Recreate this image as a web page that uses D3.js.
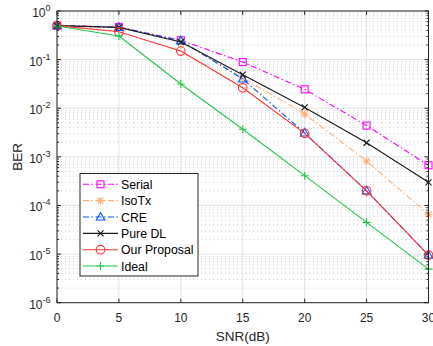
<!DOCTYPE html>
<html>
<head>
<meta charset="utf-8">
<script src="https://cdn.jsdelivr.net/npm/d3@7"></script>
<style>
  body { margin: 0; background: #fff; }
  svg { display: block; font-family: "Liberation Sans", Arial, sans-serif; }
</style>
</head>
<body>
<div id="chart"></div>
<script>
// SNR points (dB)
var snr = [0, 5, 10, 15, 20, 25, 30];

// BER per scheme
var serial   = [0.5, 0.47, 0.25, 0.089, 0.0245, 0.0044, 0.00067];
var isoTx    = [0.5, 0.47, 0.24, 0.042, 0.0076, 0.00082, 0.000066];
var cre      = [0.5, 0.46, 0.245, 0.040, 0.0031, 0.0002, 0.0000095];
var pureDL   = [0.5, 0.46, 0.23, 0.049, 0.0104, 0.00195, 0.0003];
var proposal = [0.5, 0.375, 0.15, 0.0264, 0.00304, 0.0002, 0.0000095];
var ideal    = [0.49, 0.306, 0.0315, 0.0037, 0.00041, 0.000045, 0.0000049];

var seriesNames = ["Serial", "IsoTx", "CRE", "Pure DL", "Our Proposal", "Ideal"];
var xTicks = [0, 5, 10, 15, 20, 25, 30];
var yExponents = [0, -1, -2, -3, -4, -5, -6];

function init() {
    var w = 433, h = 346;
    var left = 57, right = 428.5, top = 11, bottom = 302.7;
    var axisColor = "#262626";

    var series = [
        { name: seriesNames[0], values: serial,   color: "#ff00ff", dash: "6,2.5,1.5,2.5", marker: "square" },
        { name: seriesNames[1], values: isoTx,    color: "#ffb077", dash: "6,2.5,1.5,2.5", marker: "star" },
        { name: seriesNames[2], values: cre,      color: "#0055ff", dash: "6,2.5,1.5,2.5", marker: "triangle" },
        { name: seriesNames[3], values: pureDL,   color: "#1a1a1a", dash: null, marker: "x" },
        { name: seriesNames[4], values: proposal, color: "#ff3030", dash: null, marker: "circle" },
        { name: seriesNames[5], values: ideal,    color: "#22c64a", dash: null, marker: "plus" }
    ];

    var svg = d3.select("#chart").append("svg")
        .attr("width", w)
        .attr("height", h);

    var xScale = d3.scaleLinear().domain([0, 30]).range([left, right]);
    var yScale = d3.scaleLog().domain([1e-6, 1]).range([bottom, top]);

    // minor grid (dotted) for every log minor value
    var minorVals = [];
    for (var e = -6; e < 0; e++) {
        for (var m = 2; m <= 9; m++) minorVals.push(m * Math.pow(10, e));
    }
    svg.append("g").selectAll("line")
        .data(minorVals).enter().append("line")
        .attr("x1", left).attr("x2", right)
        .attr("y1", function(d) { return yScale(d); })
        .attr("y2", function(d) { return yScale(d); })
        .attr("stroke", "#cfcfcf")
        .attr("stroke-width", 1)
        .attr("stroke-dasharray", "1,3");

    // major grid
    var grid = svg.append("g");
    grid.selectAll(".hg").data(yExponents).enter().append("line")
        .attr("x1", left).attr("x2", right)
        .attr("y1", function(d) { return yScale(Math.pow(10, d)); })
        .attr("y2", function(d) { return yScale(Math.pow(10, d)); })
        .attr("stroke", "#e3e3e3").attr("stroke-width", 1);
    grid.selectAll(".vg").data(xTicks).enter().append("line")
        .attr("y1", top).attr("y2", bottom)
        .attr("x1", function(d) { return xScale(d); })
        .attr("x2", function(d) { return xScale(d); })
        .attr("stroke", "#e3e3e3").attr("stroke-width", 1);

    // lines and markers
    var line = d3.line()
        .x(function(d) { return xScale(d[0]); })
        .y(function(d) { return yScale(d[1]); });

    function drawMarker(g, type, x, y, color) {
        if (type === "square") {
            g.append("rect").attr("x", x - 3.5).attr("y", y - 3.5).attr("width", 7).attr("height", 7)
                .attr("fill", "none").attr("stroke", color);
        } else if (type === "circle") {
            g.append("circle").attr("cx", x).attr("cy", y).attr("r", 4.3)
                .attr("fill", "none").attr("stroke", color);
        } else if (type === "triangle") {
            g.append("path").attr("d", "M" + x + "," + (y - 4.5) + "L" + (x + 4.3) + "," + (y + 3) + "L" + (x - 4.3) + "," + (y + 3) + "Z")
                .attr("fill", "none").attr("stroke", color);
        } else if (type === "x") {
            g.append("path").attr("d", "M" + (x - 3) + "," + (y - 3) + "L" + (x + 3) + "," + (y + 3) + "M" + (x - 3) + "," + (y + 3) + "L" + (x + 3) + "," + (y - 3))
                .attr("stroke", color);
        } else if (type === "plus") {
            g.append("path").attr("d", "M" + (x - 4) + "," + y + "L" + (x + 4) + "," + y + "M" + x + "," + (y - 4) + "L" + x + "," + (y + 4))
                .attr("stroke", color);
        } else if (type === "star") {
            g.append("path").attr("d", "M" + (x - 4) + "," + y + "L" + (x + 4) + "," + y + "M" + x + "," + (y - 4) + "L" + x + "," + (y + 4) +
                "M" + (x - 3) + "," + (y - 3) + "L" + (x + 3) + "," + (y + 3) + "M" + (x - 3) + "," + (y + 3) + "L" + (x + 3) + "," + (y - 3))
                .attr("stroke", color);
        }
    }

    var plot = svg.append("g");
    series.forEach(function(s) {
        var pts = snr.map(function(x, i) { return [x, s.values[i]]; });
        plot.append("path")
            .datum(pts)
            .attr("d", line)
            .attr("fill", "none")
            .attr("stroke", s.color)
            .attr("stroke-width", 1.1)
            .attr("stroke-dasharray", s.dash);
        var mg = plot.append("g").attr("stroke-width", 1.1);
        pts.forEach(function(p) {
            drawMarker(mg, s.marker, xScale(p[0]), yScale(p[1]), s.color);
        });
    });

    // axes box
    svg.append("rect")
        .attr("x", left).attr("y", top)
        .attr("width", right - left).attr("height", bottom - top)
        .attr("fill", "none").attr("stroke", axisColor).attr("stroke-width", 1);

    // x ticks bottom and top
    var ticks = svg.append("g").attr("stroke", axisColor).attr("stroke-width", 1);
    xTicks.forEach(function(t) {
        var x = xScale(t);
        ticks.append("line").attr("x1", x).attr("x2", x).attr("y1", bottom).attr("y2", bottom - 4);
        ticks.append("line").attr("x1", x).attr("x2", x).attr("y1", top).attr("y2", top + 4);
    });
    // y ticks left and right (major + minor)
    yExponents.forEach(function(e) {
        var y = yScale(Math.pow(10, e));
        ticks.append("line").attr("x1", left).attr("x2", left + 4).attr("y1", y).attr("y2", y);
        ticks.append("line").attr("x1", right).attr("x2", right - 4).attr("y1", y).attr("y2", y);
    });
    minorVals.forEach(function(v) {
        var y = yScale(v);
        ticks.append("line").attr("x1", left).attr("x2", left + 2).attr("y1", y).attr("y2", y);
        ticks.append("line").attr("x1", right).attr("x2", right - 2).attr("y1", y).attr("y2", y);
    });

    // tick labels
    svg.append("g").selectAll("text")
        .data(xTicks).enter().append("text")
        .attr("x", function(d) { return xScale(d); })
        .attr("y", bottom + 19.5)
        .attr("text-anchor", "middle")
        .attr("font-size", "12px")
        .attr("fill", axisColor)
        .text(function(d) { return d; });

    var yl = svg.append("g").selectAll("text")
        .data(yExponents).enter().append("text")
        .attr("x", 50.5)
        .attr("y", function(d) { return yScale(Math.pow(10, d)) + 6; })
        .attr("text-anchor", "end")
        .attr("font-size", "12px")
        .attr("fill", axisColor);
    yl.append("tspan").text("10");
    yl.append("tspan").attr("dy", -6).attr("font-size", "9px")
        .text(function(d) { return d === 0 ? "0" : "-" + Math.abs(d); });

    // axis labels
    svg.append("text")
        .attr("x", (left + right) / 2)
        .attr("y", 341)
        .attr("text-anchor", "middle")
        .attr("font-size", "13.5px")
        .attr("fill", axisColor)
        .text("SNR(dB)");
    svg.append("text")
        .attr("transform", "translate(21.5," + ((top + bottom) / 2) + ") rotate(-90)")
        .attr("text-anchor", "middle")
        .attr("font-size", "13.5px")
        .attr("fill", axisColor)
        .text("BER");

    // legend
    var lg = svg.append("g");
    lg.append("rect")
        .attr("x", 80).attr("y", 173.5).attr("width", 118).attr("height", 102.5)
        .attr("fill", "#fff").attr("stroke", axisColor).attr("stroke-width", 1);
    series.forEach(function(s, i) {
        var y = 184.3 + i * 16.35;
        lg.append("line")
            .attr("x1", 83).attr("x2", 118).attr("y1", y).attr("y2", y)
            .attr("stroke", s.color).attr("stroke-width", 1.1)
            .attr("stroke-dasharray", s.dash);
        var mg = lg.append("g").attr("stroke-width", 1.1);
        drawMarker(mg, s.marker, 100.5, y, s.color);
        lg.append("text")
            .attr("x", 121).attr("y", y + 4.5)
            .attr("font-size", "12.3px")
            .attr("fill", "#000")
            .text(s.name);
    });
}

window.onload = init;
</script>
</body>
</html>
